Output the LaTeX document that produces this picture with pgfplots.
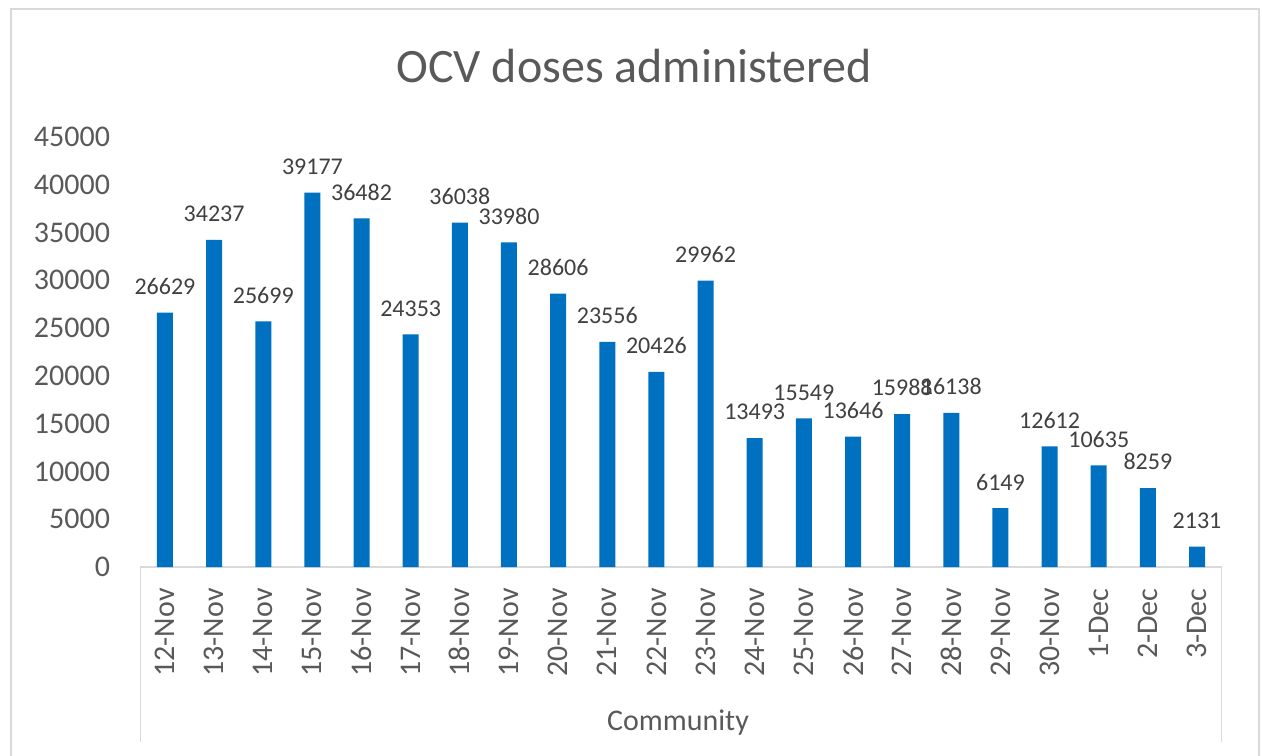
\documentclass[border=0pt]{standalone}
\usepackage{pgfplots}
\pgfplotsset{compat=1.18}
\usepackage{fontspec}
\setmainfont{Carlito}
\definecolor{barblue}{HTML}{0070C0}
\definecolor{txtgray}{HTML}{595959}
\definecolor{lblgray}{HTML}{404040}
\definecolor{framegray}{HTML}{D9D9D9}
\begin{document}
\begin{tikzpicture}[x=1pt,y=1pt]
\useasboundingbox (0,0) rectangle (631,377.5);
\draw[framegray,line width=1pt] (5.5,-3) rectangle (629.5,373);
\node[txtgray,font=\fontsize{24}{28}\selectfont] at (317,344.5) {OCV doses administered};
\begin{axis}[
  at={(70.2pt,94pt)}, anchor=south west,
  scale only axis, width=540.6pt, height=215pt,
  xmin=-0.5, xmax=21.5, ymin=0, ymax=45000,
  ybar, bar width=8pt,
  axis x line*=bottom, axis y line*=left,
  x axis line style={framegray, line width=0.8pt, -},
  y axis line style={draw=none},
  major tick length=0pt,
  xtick=data,
  xticklabels={12-Nov,13-Nov,14-Nov,15-Nov,16-Nov,17-Nov,18-Nov,19-Nov,20-Nov,21-Nov,22-Nov,23-Nov,24-Nov,25-Nov,26-Nov,27-Nov,28-Nov,29-Nov,30-Nov,1-Dec,2-Dec,3-Dec},
  xticklabel style={rotate=90, anchor=east, inner sep=0pt, txtgray, font=\fontsize{15}{18}\selectfont},
  xticklabel shift=10.5pt,
  ytick={0,5000,...,45000},
  scaled y ticks=false,
  yticklabel style={txtgray, font=\fontsize{15}{18}\selectfont, inner sep=0pt, /pgf/number format/1000 sep={}},
  yticklabel shift=15pt,
  /pgf/number format/assume math mode=true,
  nodes near coords,
  nodes near coords style={lblgray, font=\fontsize{12}{14}\selectfont, /pgf/number format/1000 sep={}, /pgf/number format/fixed, yshift=5.5pt},
]
\addplot[fill=barblue, draw=none] coordinates {
(0,26629) (1,34237) (2,25699) (3,39177) (4,36482) (5,24353) (6,36038) (7,33980) (8,28606) (9,23556) (10,20426) (11,29962) (12,13493) (13,15549) (14,13646) (15,15988) (16,16138) (17,6149) (18,12612) (19,10635) (20,8259) (21,2131)};
\end{axis}
\draw[framegray,line width=0.8pt] (70.2,94) -- (70.2,6.5);
\draw[framegray,line width=0.8pt] (610.8,94) -- (610.8,6.5);
\node[txtgray,font=\fontsize{15}{18}\selectfont] at (339,16) {Community};
\end{tikzpicture}
\end{document}
